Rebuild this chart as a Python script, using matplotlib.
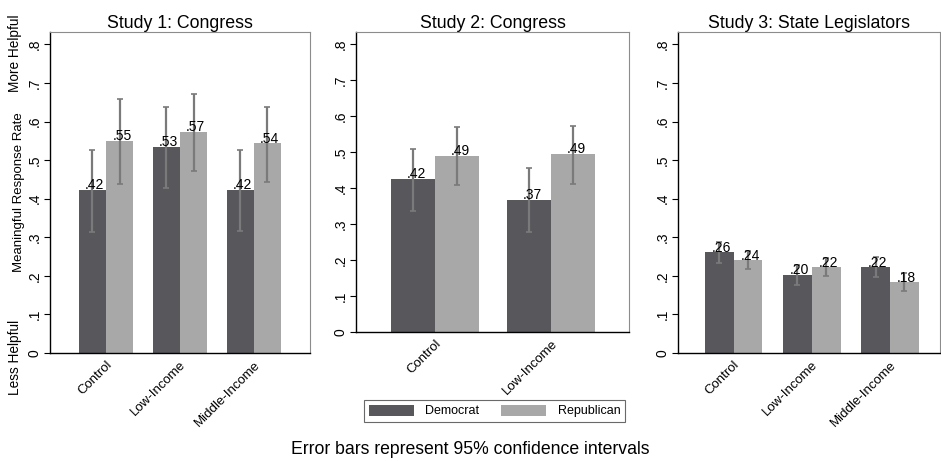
import numpy as np
import matplotlib
matplotlib.use('Agg')
import matplotlib.pyplot as plt
from matplotlib.patches import Patch

plt.rcParams['font.family'] = ['Liberation Sans', 'DejaVu Sans']

titles = ['Study 1: Congress', 'Study 2: Congress', 'Study 3: State Legislators']
categories = [
    ['Control', 'Low-Income', 'Middle-Income'],
    ['Control', 'Low-Income'],
    ['Control', 'Low-Income', 'Middle-Income'],
]
dem_vals = [[0.422, 0.534, 0.422], [0.425, 0.367], [0.261, 0.202, 0.222]]
rep_vals = [[0.549, 0.573, 0.543], [0.489, 0.495], [0.240, 0.222, 0.183]]
dem_lo = [[0.314, 0.428, 0.316], [0.336, 0.277], [0.233, 0.175, 0.197]]
dem_hi = [[0.527, 0.638, 0.527], [0.509, 0.456], [0.288, 0.228, 0.249]]
rep_lo = [[0.438, 0.471, 0.444], [0.410, 0.412], [0.218, 0.199, 0.160]]
rep_hi = [[0.658, 0.670, 0.638], [0.570, 0.574], [0.265, 0.245, 0.208]]
dem_labels = [['.42', '.53', '.42'], ['.42', '.37'], ['.26', '.20', '.22']]
rep_labels = [['.55', '.57', '.54'], ['.49', '.49'], ['.24', '.22', '.18']]
yticks = [0, 0.1, 0.2, 0.3, 0.4, 0.5, 0.6, 0.7, 0.8]
ytick_labels = ['0', '.1', '.2', '.3', '.4', '.5', '.6', '.7', '.8']

DEM = '#58575c'
REP = '#a8a8a8'
ERR = '#7a7a7a'

# axes boxes in figure fraction, and x limits per panel
boxes = [
    [0.0531, 0.2343, 0.2763, 0.6963],
    [0.3783, 0.2798, 0.2901, 0.6508],
    [0.7205, 0.2343, 0.2785, 0.6963],
]
xlims = [(-0.76, 2.76), (-0.68, 1.67), (-0.71, 2.64)]
ytops = [0.832, 0.834, 0.832]
widths = [0.37, 0.38, 0.37]

fig = plt.figure(figsize=(9.41, 4.61), dpi=100)

for i in range(3):
    ax = fig.add_axes(boxes[i])
    x = np.arange(len(categories[i]))
    w = widths[i]
    d = np.array(dem_vals[i])
    r = np.array(rep_vals[i])
    ax.bar(x - w / 2, d, w, color=DEM, zorder=2)
    ax.bar(x + w / 2, r, w, color=REP, zorder=2)
    ax.errorbar(x - w / 2, d, yerr=[d - np.array(dem_lo[i]), np.array(dem_hi[i]) - d],
                fmt='none', ecolor=ERR, elinewidth=1.6, capsize=2.5, capthick=1.2, zorder=3)
    ax.errorbar(x + w / 2, r, yerr=[r - np.array(rep_lo[i]), np.array(rep_hi[i]) - r],
                fmt='none', ecolor=ERR, elinewidth=1.6, capsize=2.5, capthick=1.2, zorder=3)
    for xi, v, lab in zip(x - w / 2, d, dem_labels[i]):
        ax.text(xi + 0.03, v + 0.002, lab, ha='center', va='baseline', fontsize=10, zorder=4)
    for xi, v, lab in zip(x + w / 2, r, rep_labels[i]):
        ax.text(xi + 0.03, v + 0.002, lab, ha='center', va='baseline', fontsize=10, zorder=4)

    ax.set_xlim(*xlims[i])
    ax.set_ylim(0, ytops[i])
    ax.set_yticks(yticks)
    ax.set_yticklabels(ytick_labels, rotation=90, va='center', fontsize=10)
    ax.set_xticks(x)
    ax.set_xticklabels(categories[i], rotation=45, ha='right', rotation_mode='anchor', fontsize=9.5)
    ax.tick_params(axis='x', length=0, pad=4)
    ax.tick_params(axis='y', length=4, width=0.8, pad=2)
    ax.set_title(titles[i], fontsize=12.8, pad=3)
    for s in ['left', 'bottom']:
        ax.spines[s].set_color('black')
        ax.spines[s].set_linewidth(1.0)
    for s in ['top', 'right']:
        ax.spines[s].set_color('#8c8c8c')
        ax.spines[s].set_linewidth(0.8)

    if i == 0:
        ax.set_ylabel('Meaningful Response Rate', fontsize=9.5, labelpad=2)

fig.text(0.016, 0.968, 'More Helpful', rotation=90, ha='center', va='top', fontsize=9.8)
fig.text(0.016, 0.143, 'Less Helpful', rotation=90, ha='center', va='bottom', fontsize=9.8)

handles = [Patch(facecolor=DEM, label='Democrat'), Patch(facecolor=REP, label='Republican')]
leg = fig.legend(handles=handles, loc='center', bbox_to_anchor=(0.5255, 0.1085), ncol=2,
                 fontsize=9, frameon=True, fancybox=False, handlelength=3.6, handleheight=1.0,
                 columnspacing=1.8, handletextpad=0.9, borderpad=0.4)
leg.get_frame().set_edgecolor('#444444')
leg.get_frame().set_linewidth(0.8)

fig.text(0.4995, 0.024, 'Error bars represent 95% confidence intervals', ha='center', va='center',
         fontsize=12.7)

fig.savefig('out.png', dpi=100)
